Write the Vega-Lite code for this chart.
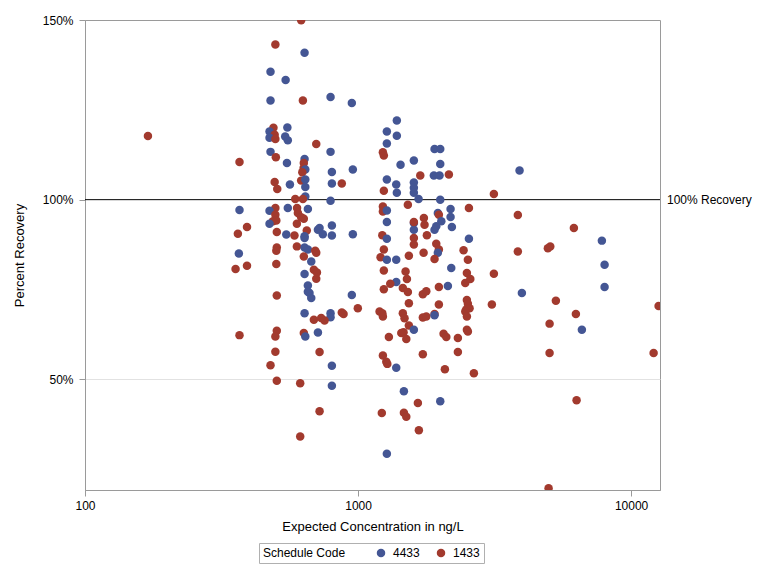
{
  "$schema": "https://vega.github.io/schema/vega-lite/v6.json",
  "width": 575,
  "height": 470,
  "autosize": {"type": "none"},
  "padding": {"left": 85, "top": 20, "right": 108, "bottom": 86},
  "background": "white",
  "config": {
    "font": "Liberation Sans",
    "view": {"stroke": "#9a9a9a", "strokeWidth": 1},
    "axis": {
      "labelFont": "Liberation Sans",
      "titleFont": "Liberation Sans",
      "labelFontSize": 12,
      "titleFontSize": 13,
      "titleFontWeight": "normal",
      "labelColor": "#000000",
      "titleColor": "#000000",
      "domainColor": "#9a9a9a",
      "tickColor": "#9a9a9a",
      "tickSize": 6,
      "labelFlush": false,
      "labelOverlap": false
    },
    "legend": {
      "labelFont": "Liberation Sans",
      "titleFont": "Liberation Sans",
      "labelFontSize": 12,
      "titleFontSize": 12,
      "titleFontWeight": "normal",
      "labelColor": "#000000",
      "titleColor": "#000000"
    }
  },
  "datasets": {
    "pts": [
      {"conc": 170, "pct": 117.7, "code": "1433"},
      {"conc": 368, "pct": 110.5, "code": "1433"},
      {"conc": 368, "pct": 97.1, "code": "4433"},
      {"conc": 392, "pct": 92.4, "code": "1433"},
      {"conc": 363, "pct": 90.5, "code": "1433"},
      {"conc": 366, "pct": 85.0, "code": "4433"},
      {"conc": 392, "pct": 81.6, "code": "1433"},
      {"conc": 356, "pct": 80.7, "code": "1433"},
      {"conc": 368, "pct": 62.3, "code": "1433"},
      {"conc": 619, "pct": 149.9, "code": "1433"},
      {"conc": 498, "pct": 143.2, "code": "1433"},
      {"conc": 637, "pct": 140.9, "code": "4433"},
      {"conc": 478, "pct": 135.6, "code": "4433"},
      {"conc": 543, "pct": 133.3, "code": "4433"},
      {"conc": 478, "pct": 127.6, "code": "4433"},
      {"conc": 628, "pct": 127.6, "code": "1433"},
      {"conc": 490, "pct": 120.0, "code": "1433"},
      {"conc": 474, "pct": 119.0, "code": "4433"},
      {"conc": 551, "pct": 120.1, "code": "4433"},
      {"conc": 495, "pct": 118.1, "code": "1433"},
      {"conc": 474, "pct": 117.2, "code": "4433"},
      {"conc": 541, "pct": 117.6, "code": "4433"},
      {"conc": 498, "pct": 116.9, "code": "1433"},
      {"conc": 553, "pct": 116.5, "code": "4433"},
      {"conc": 703, "pct": 115.5, "code": "1433"},
      {"conc": 478, "pct": 113.3, "code": "4433"},
      {"conc": 500, "pct": 111.8, "code": "1433"},
      {"conc": 549, "pct": 110.2, "code": "4433"},
      {"conc": 637, "pct": 111.3, "code": "4433"},
      {"conc": 633, "pct": 110.2, "code": "1433"},
      {"conc": 632, "pct": 108.8, "code": "1433"},
      {"conc": 641, "pct": 108.4, "code": "4433"},
      {"conc": 625, "pct": 107.6, "code": "1433"},
      {"conc": 495, "pct": 104.9, "code": "1433"},
      {"conc": 563, "pct": 104.2, "code": "4433"},
      {"conc": 619, "pct": 105.3, "code": "1433"},
      {"conc": 641, "pct": 105.6, "code": "4433"},
      {"conc": 506, "pct": 103.0, "code": "1433"},
      {"conc": 641, "pct": 103.5, "code": "4433"},
      {"conc": 641, "pct": 100.9, "code": "4433"},
      {"conc": 589, "pct": 100.2, "code": "1433"},
      {"conc": 628, "pct": 100.2, "code": "1433"},
      {"conc": 498, "pct": 97.7, "code": "1433"},
      {"conc": 474, "pct": 96.9, "code": "4433"},
      {"conc": 553, "pct": 97.7, "code": "4433"},
      {"conc": 598, "pct": 97.7, "code": "1433"},
      {"conc": 655, "pct": 97.4, "code": "4433"},
      {"conc": 602, "pct": 96.3, "code": "1433"},
      {"conc": 498, "pct": 95.8, "code": "1433"},
      {"conc": 619, "pct": 95.1, "code": "1433"},
      {"conc": 488, "pct": 94.0, "code": "1433"},
      {"conc": 502, "pct": 94.2, "code": "1433"},
      {"conc": 474, "pct": 93.3, "code": "4433"},
      {"conc": 633, "pct": 94.7, "code": "1433"},
      {"conc": 597, "pct": 93.3, "code": "1433"},
      {"conc": 649, "pct": 91.4, "code": "1433"},
      {"conc": 713, "pct": 91.6, "code": "4433"},
      {"conc": 504, "pct": 91.0, "code": "1433"},
      {"conc": 546, "pct": 90.3, "code": "4433"},
      {"conc": 585, "pct": 90.0, "code": "1433"},
      {"conc": 637, "pct": 89.8, "code": "4433"},
      {"conc": 504, "pct": 86.7, "code": "1433"},
      {"conc": 502, "pct": 85.8, "code": "1433"},
      {"conc": 597, "pct": 87.0, "code": "1433"},
      {"conc": 637, "pct": 86.7, "code": "4433"},
      {"conc": 655, "pct": 86.1, "code": "4433"},
      {"conc": 697, "pct": 85.8, "code": "1433"},
      {"conc": 633, "pct": 84.2, "code": "1433"},
      {"conc": 674, "pct": 82.8, "code": "4433"},
      {"conc": 502, "pct": 82.1, "code": "1433"},
      {"conc": 689, "pct": 80.5, "code": "1433"},
      {"conc": 637, "pct": 79.3, "code": "4433"},
      {"conc": 703, "pct": 78.0, "code": "1433"},
      {"conc": 655, "pct": 76.1, "code": "4433"},
      {"conc": 664, "pct": 74.0, "code": "4433"},
      {"conc": 674, "pct": 72.6, "code": "4433"},
      {"conc": 504, "pct": 73.3, "code": "1433"},
      {"conc": 637, "pct": 68.4, "code": "4433"},
      {"conc": 689, "pct": 66.6, "code": "1433"},
      {"conc": 713, "pct": 63.0, "code": "4433"},
      {"conc": 633, "pct": 62.9, "code": "1433"},
      {"conc": 641, "pct": 61.9, "code": "4433"},
      {"conc": 504, "pct": 63.5, "code": "1433"},
      {"conc": 498, "pct": 61.9, "code": "1433"},
      {"conc": 498, "pct": 57.7, "code": "1433"},
      {"conc": 478, "pct": 53.9, "code": "1433"},
      {"conc": 504, "pct": 49.6, "code": "1433"},
      {"conc": 614, "pct": 48.9, "code": "1433"},
      {"conc": 723, "pct": 57.6, "code": "1433"},
      {"conc": 723, "pct": 41.1, "code": "1433"},
      {"conc": 614, "pct": 34.1, "code": "1433"},
      {"conc": 703, "pct": 85.2, "code": "1433"},
      {"conc": 637, "pct": 89.3, "code": "4433"},
      {"conc": 707, "pct": 79.7, "code": "1433"},
      {"conc": 655, "pct": 74.4, "code": "4433"},
      {"conc": 793, "pct": 128.6, "code": "4433"},
      {"conc": 949, "pct": 126.9, "code": "4433"},
      {"conc": 793, "pct": 113.3, "code": "4433"},
      {"conc": 802, "pct": 107.7, "code": "4433"},
      {"conc": 957, "pct": 108.4, "code": "4433"},
      {"conc": 802, "pct": 104.5, "code": "4433"},
      {"conc": 872, "pct": 104.5, "code": "1433"},
      {"conc": 793, "pct": 99.7, "code": "4433"},
      {"conc": 723, "pct": 92.1, "code": "4433"},
      {"conc": 743, "pct": 90.4, "code": "4433"},
      {"conc": 802, "pct": 92.8, "code": "4433"},
      {"conc": 802, "pct": 90.0, "code": "4433"},
      {"conc": 957, "pct": 90.4, "code": "4433"},
      {"conc": 1275, "pct": 119.0, "code": "4433"},
      {"conc": 1387, "pct": 122.0, "code": "4433"},
      {"conc": 1387, "pct": 117.8, "code": "4433"},
      {"conc": 1275, "pct": 115.6, "code": "4433"},
      {"conc": 1233, "pct": 113.2, "code": "1433"},
      {"conc": 1243, "pct": 112.3, "code": "1433"},
      {"conc": 1431, "pct": 109.7, "code": "4433"},
      {"conc": 1601, "pct": 110.9, "code": "4433"},
      {"conc": 1690, "pct": 106.7, "code": "1433"},
      {"conc": 1275, "pct": 105.6, "code": "4433"},
      {"conc": 1380, "pct": 104.2, "code": "4433"},
      {"conc": 1387, "pct": 101.9, "code": "4433"},
      {"conc": 1601, "pct": 104.8, "code": "4433"},
      {"conc": 1601, "pct": 103.3, "code": "4433"},
      {"conc": 1601, "pct": 101.9, "code": "4433"},
      {"conc": 1243, "pct": 102.5, "code": "1433"},
      {"conc": 1666, "pct": 100.2, "code": "4433"},
      {"conc": 1522, "pct": 98.6, "code": "1433"},
      {"conc": 1906, "pct": 114.1, "code": "4433"},
      {"conc": 2000, "pct": 114.1, "code": "4433"},
      {"conc": 2000, "pct": 109.9, "code": "4433"},
      {"conc": 1895, "pct": 106.7, "code": "4433"},
      {"conc": 1988, "pct": 106.7, "code": "4433"},
      {"conc": 2151, "pct": 107.0, "code": "1433"},
      {"conc": 2000, "pct": 100.0, "code": "4433"},
      {"conc": 1233, "pct": 98.1, "code": "1433"},
      {"conc": 1233, "pct": 96.7, "code": "1433"},
      {"conc": 1275, "pct": 97.0, "code": "4433"},
      {"conc": 1275, "pct": 93.8, "code": "4433"},
      {"conc": 1227, "pct": 90.1, "code": "1433"},
      {"conc": 1275, "pct": 89.1, "code": "4433"},
      {"conc": 1243, "pct": 86.1, "code": "1433"},
      {"conc": 1209, "pct": 84.0, "code": "1433"},
      {"conc": 1601, "pct": 93.5, "code": "4433"},
      {"conc": 1601, "pct": 91.6, "code": "4433"},
      {"conc": 1601, "pct": 93.8, "code": "1433"},
      {"conc": 1742, "pct": 94.9, "code": "1433"},
      {"conc": 1752, "pct": 93.0, "code": "1433"},
      {"conc": 1787, "pct": 90.1, "code": "1433"},
      {"conc": 1601, "pct": 89.3, "code": "1433"},
      {"conc": 1601, "pct": 87.5, "code": "1433"},
      {"conc": 1960, "pct": 96.3, "code": "4433"},
      {"conc": 1977, "pct": 95.8, "code": "1433"},
      {"conc": 1934, "pct": 92.6, "code": "4433"},
      {"conc": 1906, "pct": 91.6, "code": "4433"},
      {"conc": 2018, "pct": 94.0, "code": "4433"},
      {"conc": 2182, "pct": 97.4, "code": "4433"},
      {"conc": 2182, "pct": 95.2, "code": "4433"},
      {"conc": 2206, "pct": 92.4, "code": "4433"},
      {"conc": 2547, "pct": 97.7, "code": "1433"},
      {"conc": 2547, "pct": 89.1, "code": "4433"},
      {"conc": 1934, "pct": 87.7, "code": "1433"},
      {"conc": 1977, "pct": 86.1, "code": "1433"},
      {"conc": 1738, "pct": 85.2, "code": "1433"},
      {"conc": 2435, "pct": 85.9, "code": "1433"},
      {"conc": 1535, "pct": 84.4, "code": "1433"},
      {"conc": 1380, "pct": 83.3, "code": "4433"},
      {"conc": 1275, "pct": 83.3, "code": "4433"},
      {"conc": 1960, "pct": 85.2, "code": "4433"},
      {"conc": 1906, "pct": 83.5, "code": "1433"},
      {"conc": 2525, "pct": 83.3, "code": "1433"},
      {"conc": 1243, "pct": 80.3, "code": "1433"},
      {"conc": 1493, "pct": 80.0, "code": "1433"},
      {"conc": 1510, "pct": 77.9, "code": "1433"},
      {"conc": 1380, "pct": 77.1, "code": "4433"},
      {"conc": 1312, "pct": 76.6, "code": "1433"},
      {"conc": 1243, "pct": 75.1, "code": "1433"},
      {"conc": 1459, "pct": 75.4, "code": "1433"},
      {"conc": 1522, "pct": 74.3, "code": "1433"},
      {"conc": 1727, "pct": 73.7, "code": "1433"},
      {"conc": 1778, "pct": 74.5, "code": "1433"},
      {"conc": 1977, "pct": 75.7, "code": "1433"},
      {"conc": 2133, "pct": 76.0, "code": "4433"},
      {"conc": 2195, "pct": 81.0, "code": "4433"},
      {"conc": 2504, "pct": 79.6, "code": "1433"},
      {"conc": 2470, "pct": 76.8, "code": "1433"},
      {"conc": 2577, "pct": 77.9, "code": "1433"},
      {"conc": 949, "pct": 73.5, "code": "4433"},
      {"conc": 1535, "pct": 71.2, "code": "1433"},
      {"conc": 1977, "pct": 70.8, "code": "1433"},
      {"conc": 2504, "pct": 72.1, "code": "1433"},
      {"conc": 2525, "pct": 71.0, "code": "1433"},
      {"conc": 2491, "pct": 69.4, "code": "1433"},
      {"conc": 2561, "pct": 69.8, "code": "1433"},
      {"conc": 2470, "pct": 68.9, "code": "1433"},
      {"conc": 793, "pct": 68.4, "code": "4433"},
      {"conc": 793, "pct": 67.3, "code": "4433"},
      {"conc": 733, "pct": 67.1, "code": "1433"},
      {"conc": 754, "pct": 66.4, "code": "1433"},
      {"conc": 872, "pct": 68.6, "code": "1433"},
      {"conc": 885, "pct": 68.2, "code": "1433"},
      {"conc": 998, "pct": 69.8, "code": "1433"},
      {"conc": 1199, "pct": 68.9, "code": "1433"},
      {"conc": 1227, "pct": 68.4, "code": "1433"},
      {"conc": 1233, "pct": 67.5, "code": "1433"},
      {"conc": 1459, "pct": 68.4, "code": "1433"},
      {"conc": 1480, "pct": 67.0, "code": "1433"},
      {"conc": 1535, "pct": 65.0, "code": "1433"},
      {"conc": 1727, "pct": 67.2, "code": "1433"},
      {"conc": 1778, "pct": 67.5, "code": "1433"},
      {"conc": 1906, "pct": 68.2, "code": "1433"},
      {"conc": 1906, "pct": 67.8, "code": "4433"},
      {"conc": 2504, "pct": 67.5, "code": "1433"},
      {"conc": 1601, "pct": 63.8, "code": "4433"},
      {"conc": 1297, "pct": 61.8, "code": "1433"},
      {"conc": 1440, "pct": 62.9, "code": "1433"},
      {"conc": 1468, "pct": 63.1, "code": "1433"},
      {"conc": 1502, "pct": 61.2, "code": "1433"},
      {"conc": 2057, "pct": 62.7, "code": "1433"},
      {"conc": 2105, "pct": 61.8, "code": "1433"},
      {"conc": 2321, "pct": 61.5, "code": "1433"},
      {"conc": 2504, "pct": 63.8, "code": "1433"},
      {"conc": 2525, "pct": 63.3, "code": "1433"},
      {"conc": 1233, "pct": 56.6, "code": "1433"},
      {"conc": 1269, "pct": 54.9, "code": "1433"},
      {"conc": 1280, "pct": 54.3, "code": "1433"},
      {"conc": 1727, "pct": 57.0, "code": "1433"},
      {"conc": 2321, "pct": 57.6, "code": "1433"},
      {"conc": 802, "pct": 53.8, "code": "4433"},
      {"conc": 1380, "pct": 53.2, "code": "4433"},
      {"conc": 2080, "pct": 52.8, "code": "1433"},
      {"conc": 2656, "pct": 51.7, "code": "1433"},
      {"conc": 802, "pct": 48.2, "code": "4433"},
      {"conc": 1472, "pct": 46.7, "code": "4433"},
      {"conc": 1656, "pct": 43.4, "code": "1433"},
      {"conc": 2000, "pct": 43.9, "code": "4433"},
      {"conc": 1222, "pct": 40.6, "code": "1433"},
      {"conc": 1472, "pct": 40.7, "code": "1433"},
      {"conc": 1502, "pct": 39.6, "code": "1433"},
      {"conc": 1670, "pct": 35.8, "code": "1433"},
      {"conc": 1275, "pct": 29.3, "code": "4433"},
      {"conc": 3904, "pct": 108.1, "code": "4433"},
      {"conc": 3144, "pct": 101.6, "code": "1433"},
      {"conc": 3848, "pct": 95.7, "code": "1433"},
      {"conc": 6172, "pct": 92.1, "code": "1433"},
      {"conc": 7816, "pct": 88.6, "code": "4433"},
      {"conc": 3848, "pct": 85.6, "code": "1433"},
      {"conc": 4957, "pct": 86.5, "code": "1433"},
      {"conc": 5058, "pct": 87.0, "code": "1433"},
      {"conc": 7997, "pct": 81.9, "code": "4433"},
      {"conc": 3144, "pct": 79.4, "code": "1433"},
      {"conc": 3981, "pct": 74.0, "code": "4433"},
      {"conc": 7997, "pct": 75.7, "code": "4433"},
      {"conc": 3091, "pct": 70.8, "code": "1433"},
      {"conc": 5303, "pct": 71.9, "code": "1433"},
      {"conc": 6277, "pct": 68.2, "code": "1433"},
      {"conc": 12610, "pct": 70.4, "code": "1433"},
      {"conc": 5029, "pct": 65.5, "code": "1433"},
      {"conc": 6603, "pct": 63.8, "code": "4433"},
      {"conc": 5029, "pct": 57.3, "code": "1433"},
      {"conc": 12090, "pct": 57.3, "code": "1433"},
      {"conc": 6315, "pct": 44.2, "code": "1433"},
      {"conc": 4987, "pct": 19.7, "code": "1433"}
    ],
    "ref": [
      {"conc": 12760, "pct": 100, "label": "100% Recovery"}
    ]
  },
  "layer": [
    {
      "data": {"name": "ref"},
      "mark": {"type": "rule", "color": "#000000", "strokeWidth": 1},
      "encoding": {"y": {"field": "pct", "type": "quantitative"}}
    },
    {
      "data": {"name": "pts"},
      "mark": {"type": "circle", "size": 72, "opacity": 1, "clip": true},
      "encoding": {
        "x": {
          "field": "conc",
          "type": "quantitative",
          "scale": {"type": "log", "domain": [100, 12760], "nice": false},
          "axis": {
            "title": "Expected Concentration in ng/L",
            "values": [100, 1000, 10000],
            "format": "d",
            "grid": false,
            "labelPadding": 4,
            "titlePadding": 9
          }
        },
        "y": {
          "field": "pct",
          "type": "quantitative",
          "scale": {"domain": [19.2, 150], "nice": false, "zero": false},
          "axis": {
            "title": "Percent Recovery",
            "values": [50, 100, 150],
            "labelExpr": "datum.value + '%'",
            "grid": true,
            "gridColor": {"condition": {"test": "datum.value === 50", "value": "#e2e2e2"}, "value": "transparent"},
            "labelPadding": 6,
            "titlePadding": 16
          }
        },
        "color": {
          "field": "code",
          "type": "nominal",
          "scale": {"domain": ["4433", "1433"], "range": ["#445694", "#A23A2E"]},
          "legend": {
            "title": "Schedule Code",
            "orient": "none",
            "legendX": 174,
            "legendY": 523,
            "direction": "horizontal",
            "titleOrient": "left",
            "titlePadding": 29,
            "strokeColor": "#b0b0b0",
            "padding": 4,
            "symbolType": "circle",
            "symbolSize": 72,
            "columnPadding": 15,
            "labelOffset": 6
          }
        }
      }
    },
    {
      "data": {"name": "ref"},
      "mark": {"type": "text", "align": "left", "baseline": "middle", "dx": 7, "fontSize": 12, "font": "Liberation Sans", "color": "#000000"},
      "encoding": {
        "x": {"field": "conc", "type": "quantitative"},
        "y": {"field": "pct", "type": "quantitative"},
        "text": {"field": "label"}
      }
    }
  ]
}
